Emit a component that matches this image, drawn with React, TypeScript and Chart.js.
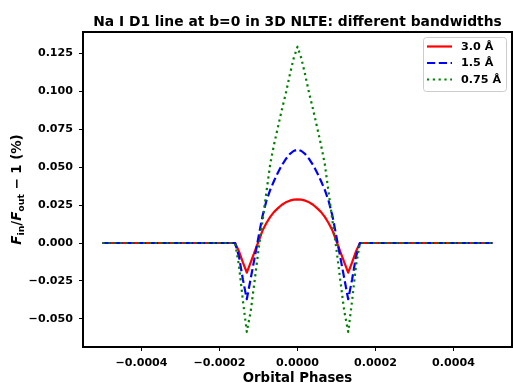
import React, { useEffect, useRef } from "react";
import { Chart, registerables } from "chart.js";

Chart.register(...registerables);

const title = "Na I D1 line at b=0 in 3D NLTE: different bandwidths";
const xLabel = "Orbital Phases";

const phases = [
  -0.0005, -0.00016, -0.00015, -0.00014, -0.00013, -0.00012, -0.00011, -0.0001,
  -0.00009, -0.00008, -0.00007, -0.00006, -0.00005, -0.00004, -0.00003, -0.00002,
  -0.00001, 0, 0.00001, 0.00002, 0.00003, 0.00004, 0.00005, 0.00006, 0.00007,
  0.00008, 0.00009, 0.0001, 0.00011, 0.00012, 0.00013, 0.00014, 0.00015, 0.00016,
  0.0005,
];

const band30 = [
  0, 0, -0.0055, -0.0128, -0.0195, -0.0127, -0.0058, 0.001,
  0.008, 0.013, 0.0172, 0.0205, 0.023, 0.0252, 0.0268, 0.0279,
  0.0286, 0.0288, 0.0286, 0.0279, 0.0268, 0.0252, 0.023, 0.0205, 0.0172,
  0.013, 0.008, 0.001, -0.0058, -0.0127, -0.0195, -0.0128, -0.0055, 0,
  0,
];

const band15 = [
  0, 0, -0.009, -0.024, -0.037, -0.0234, -0.0098, 0.004,
  0.0174, 0.0275, 0.035, 0.041, 0.0465, 0.0513, 0.0553, 0.0585,
  0.0606, 0.0615, 0.0606, 0.0585, 0.0553, 0.0513, 0.0465, 0.041, 0.035,
  0.0275, 0.0174, 0.004, -0.0098, -0.0234, -0.037, -0.024, -0.009, 0,
  0,
];

const band075 = [
  0, 0, -0.015, -0.038, -0.0585, -0.045, -0.025, -0.0045,
  0.014, 0.033, 0.052, 0.065, 0.0765, 0.088, 0.0985, 0.1105,
  0.1215, 0.1293, 0.1215, 0.1105, 0.0985, 0.088, 0.0765, 0.065, 0.052,
  0.033, 0.014, -0.0045, -0.025, -0.045, -0.0585, -0.038, -0.015, 0,
  0,
];

const seriesLabels = ["3.0 Å", "1.5 Å", "0.75 Å"];
const seriesColors = ["#ff0000", "#0000ff", "#008000"];
const seriesDashes = [[], [8.2, 3.6], [2.2, 3.6]];

const xTicks = [-0.0004, -0.0002, 0, 0.0002, 0.0004];
const yTicks = [-0.05, -0.025, 0, 0.025, 0.05, 0.075, 0.1, 0.125];
const xRange = [-0.00055, 0.00055];
const yRange = [-0.0685, 0.139];

const FONT = "'DejaVu Sans', 'Liberation Sans', sans-serif";

function fmt(v: number, d: number) {
  if (Math.abs(v) < 1e-12) v = 0;
  return v.toFixed(d).replace("-", "\u2212");
}

const decorPlugin = {
  id: "decor",
  afterDraw(chart: any) {
    const ctx = chart.ctx as CanvasRenderingContext2D;
    const a = chart.chartArea;
    ctx.save();
    // frame
    ctx.strokeStyle = "#000";
    ctx.lineWidth = 2;
    ctx.setLineDash([]);
    ctx.strokeRect(a.left, a.top, a.right - a.left, a.bottom - a.top);

    const cx = (a.left + a.right) / 2;
    // title
    ctx.fillStyle = "#000";
    ctx.textAlign = "center";
    ctx.textBaseline = "alphabetic";
    ctx.font = `bold 13.85px ${FONT}`;
    ctx.fillText(title, cx, 25.5);
    // x label
    ctx.font = `bold 13.3px ${FONT}`;
    ctx.fillText(xLabel, cx, 381.5);

    // y label (rotated, with subscripts)
    const big = `bold 13.3px ${FONT}`;
    const bigIt = `italic bold 13.3px ${FONT}`;
    const small = `bold 9.4px ${FONT}`;
    const parts = [
      { t: "F", f: bigIt, dy: 0 },
      { t: "in", f: small, dy: 3 },
      { t: "/", f: big, dy: 0 },
      { t: "F", f: bigIt, dy: 0 },
      { t: "out", f: small, dy: 3 },
      { t: " \u2212 1 (%)", f: big, dy: 0 },
    ];
    let total = 0;
    for (const p of parts) {
      ctx.font = p.f;
      total += ctx.measureText(p.t).width;
    }
    ctx.translate(20.5, (a.top + a.bottom) / 2);
    ctx.rotate(-Math.PI / 2);
    ctx.textAlign = "left";
    let x = -total / 2;
    for (const p of parts) {
      ctx.font = p.f;
      ctx.fillText(p.t, x, p.dy);
      x += ctx.measureText(p.t).width;
    }
    ctx.setTransform(1, 0, 0, 1, 0, 0);

    // legend
    const lx = 423.5, ly = 37.5, lw = 83, lh = 54;
    ctx.beginPath();
    (ctx as any).roundRect(lx, ly, lw, lh, 3);
    ctx.fillStyle = "rgba(255,255,255,0.8)";
    ctx.fill();
    ctx.strokeStyle = "#cccccc";
    ctx.lineWidth = 1;
    ctx.stroke();
    const rows = [46.5, 63, 79.5];
    ctx.font = `bold 11.2px ${FONT}`;
    ctx.textBaseline = "middle";
    for (let i = 0; i < 3; i++) {
      ctx.beginPath();
      ctx.strokeStyle = seriesColors[i];
      ctx.lineWidth = 2.2;
      ctx.lineCap = "butt";
      ctx.setLineDash(seriesDashes[i]);
      ctx.moveTo(427, rows[i]);
      ctx.lineTo(452, rows[i]);
      ctx.stroke();
      ctx.setLineDash([]);
      ctx.fillStyle = "#000";
      ctx.fillText(seriesLabels[i], 461, rows[i] + 0.5);
    }
    ctx.restore();
  },
};

export default function App() {
  const ref = useRef<HTMLCanvasElement | null>(null);
  useEffect(() => {
    if (!ref.current) return;
    const series = [band30, band15, band075];
    const chart = new Chart(ref.current, {
      type: "line",
      data: {
        datasets: series.map((s, i) => ({
          label: seriesLabels[i],
          data: phases.map((p, j) => ({ x: p, y: s[j] })),
          borderColor: seriesColors[i],
          borderWidth: 2.2,
          borderDash: seriesDashes[i],
          borderCapStyle: "butt" as const,
          borderJoinStyle: "round" as const,
          pointRadius: 0,
          fill: false,
          tension: 0,
          order: 3 - i,
        })),
      },
      options: {
        animation: false,
        responsive: false,
        devicePixelRatio: 1,
        layout: { padding: { left: 0, right: 1, top: 32, bottom: 0 } },
        plugins: {
          legend: { display: false },
          title: { display: false },
          tooltip: { enabled: false },
        },
        scales: {
          x: {
            type: "linear",
            min: xRange[0],
            max: xRange[1],
            afterBuildTicks: (s: any) => {
              s.ticks = xTicks.map((v) => ({ value: v }));
            },
            afterFit: (s: any) => {
              s.height = 36;
            },
            grid: {
              drawOnChartArea: false,
              drawTicks: true,
              tickLength: 4,
              tickColor: "#000",
              tickWidth: 1,
            },
            border: { display: false },
            ticks: {
              color: "#000",
              padding: 5,
              maxRotation: 0,
              autoSkip: false,
              font: { family: FONT, weight: "bold", size: 11.1 },
              callback: (v: any) => fmt(Number(v), 4),
            },
          },
          y: {
            type: "linear",
            min: yRange[0],
            max: yRange[1],
            afterBuildTicks: (s: any) => {
              s.ticks = yTicks.map((v) => ({ value: v }));
            },
            afterFit: (s: any) => {
              s.width = 83;
            },
            grid: {
              drawOnChartArea: false,
              drawTicks: true,
              tickLength: 4,
              tickColor: "#000",
              tickWidth: 1,
            },
            border: { display: false },
            ticks: {
              color: "#000",
              padding: 6,
              autoSkip: false,
              font: { family: FONT, weight: "bold", size: 11.1 },
              callback: (v: any) => fmt(Number(v), 3),
            },
          },
        },
      },
      plugins: [decorPlugin],
    } as any);
    return () => chart.destroy();
  }, []);
  return (
    <div style={{ position: "fixed", left: 0, top: 0, width: 513, height: 383, background: "#fff" }}>
      <canvas ref={ref} width={513} height={383} style={{ width: 513, height: 383, display: "block" }} />
    </div>
  );
}
